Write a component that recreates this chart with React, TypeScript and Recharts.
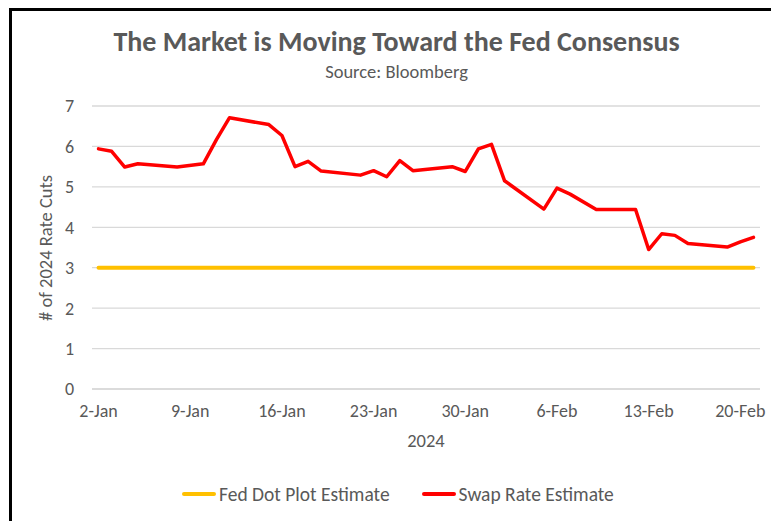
import { LineChart, Line, XAxis, YAxis, CartesianGrid } from 'recharts'

const FONT = 'Carlito, Calibri, Lato, sans-serif'
const TEXT = '#595959'

const swapDates = [
  '2024-01-02', '2024-01-03', '2024-01-04', '2024-01-05', '2024-01-08', '2024-01-10',
  '2024-01-11', '2024-01-12', '2024-01-15', '2024-01-16', '2024-01-17', '2024-01-18',
  '2024-01-19', '2024-01-22', '2024-01-23', '2024-01-24', '2024-01-25', '2024-01-26',
  '2024-01-29', '2024-01-30', '2024-01-31', '2024-02-01', '2024-02-02', '2024-02-05',
  '2024-02-06', '2024-02-07', '2024-02-09', '2024-02-12', '2024-02-13', '2024-02-14',
  '2024-02-15', '2024-02-16', '2024-02-19', '2024-02-20', '2024-02-21',
]
const swapRate = [
  5.94, 5.88, 5.49, 5.57, 5.49, 5.57,
  6.17, 6.71, 6.54, 6.27, 5.5, 5.63,
  5.39, 5.29, 5.4, 5.25, 5.65, 5.4,
  5.5, 5.38, 5.94, 6.05, 5.15, 4.45,
  4.97, 4.82, 4.44, 4.44, 3.45, 3.84,
  3.8, 3.6, 3.51, 3.64, 3.75,
]
const fedDotPlot = 3

const xTickDays = [0, 7, 14, 21, 28, 35, 42, 49]
const xTickLabels = ['2-Jan', '9-Jan', '16-Jan', '23-Jan', '30-Jan', '6-Feb', '13-Feb', '20-Feb']
const yTicks = [0, 1, 2, 3, 4, 5, 6, 7]

const start = Date.UTC(2024, 0, 2)
const dayOf = (iso: string) => {
  const [y, m, d] = iso.split('-').map(Number)
  return Math.round((Date.UTC(y, m - 1, d) - start) / 86400000)
}

const rows = swapDates.map((d, i) => ({
  day: dayOf(d),
  swap: swapRate[i],
  fed: fedDotPlot,
}))

function LegendItem({ color, label }: { color: string; label: string }) {
  return (
    <span style={{ display: 'inline-flex', alignItems: 'center' }}>
      <span style={{ display: 'inline-block', width: 34, height: 4, background: color, borderRadius: 2, marginRight: 3 }} />
      {label}
    </span>
  )
}

export default function App() {
  return (
    <div style={{ position: 'absolute', left: 0, top: 0, width: 771, height: 521, background: '#fff', fontFamily: FONT, color: TEXT }}>
      <div style={{ position: 'absolute', left: 9, top: 8, width: 762, height: 513, borderTop: '3px solid #000', borderLeft: '3px solid #000', boxSizing: 'border-box' }} />
      <div style={{ position: 'absolute', left: 0, width: 793, top: 26, textAlign: 'center', fontSize: 28, fontWeight: 700, lineHeight: '32px' }}>
        The Market is Moving Toward the Fed Consensus
      </div>
      <div style={{ position: 'absolute', left: 0, width: 793, top: 61, textAlign: 'center', fontSize: 18.5, lineHeight: '22px' }}>
        Source: Bloomberg
      </div>
      <div style={{ position: 'absolute', left: 45, top: 248, transform: 'translate(-50%, -50%) rotate(-90deg)', fontSize: 18.5, whiteSpace: 'nowrap' }}>
        # of 2024 Rate Cuts
      </div>
      <div style={{ position: 'absolute', left: 92, width: 668, top: 430, textAlign: 'center', fontSize: 18.5, lineHeight: '22px' }}>
        2024
      </div>
      <div style={{ position: 'absolute', left: 182, top: 482, fontSize: 19.5, lineHeight: '24px', display: 'flex', gap: 32 }}>
        <LegendItem color="#FFC000" label="Fed Dot Plot Estimate" />
        <LegendItem color="#FF0000" label="Swap Rate Estimate" />
      </div>
      <div style={{ position: 'absolute', left: 0, top: 0 }}>
        <LineChart width={771} height={521} data={rows} margin={{ top: 106, right: 11, left: 0, bottom: 102 }}>
          <CartesianGrid vertical={false} stroke="#D9D9D9" strokeWidth={1.3} />
          <XAxis
            dataKey="day"
            type="number"
            domain={[-0.5, 50.5]}
            ticks={xTickDays}
            tickFormatter={(v: number) => xTickLabels[xTickDays.indexOf(v)]}
            tickLine={false}
            axisLine={{ stroke: '#D9D9D9', strokeWidth: 1.3 }}
            tickMargin={9}
            height={30}
            interval={0}
            tick={{ fill: TEXT, fontSize: 18, fontFamily: FONT }}
          />
          <YAxis
            domain={[0, 7]}
            ticks={yTicks}
            width={92}
            tickLine={false}
            axisLine={false}
            tickMargin={12}
            tick={{ fill: TEXT, fontSize: 18, fontFamily: FONT }}
          />
          <Line dataKey="fed" stroke="#FFC000" strokeWidth={4} dot={false} isAnimationActive={false} strokeLinecap="round" />
          <Line dataKey="swap" stroke="#FF0000" strokeWidth={3.5} dot={false} isAnimationActive={false} strokeLinejoin="round" strokeLinecap="round" />
        </LineChart>
      </div>
    </div>
  )
}
